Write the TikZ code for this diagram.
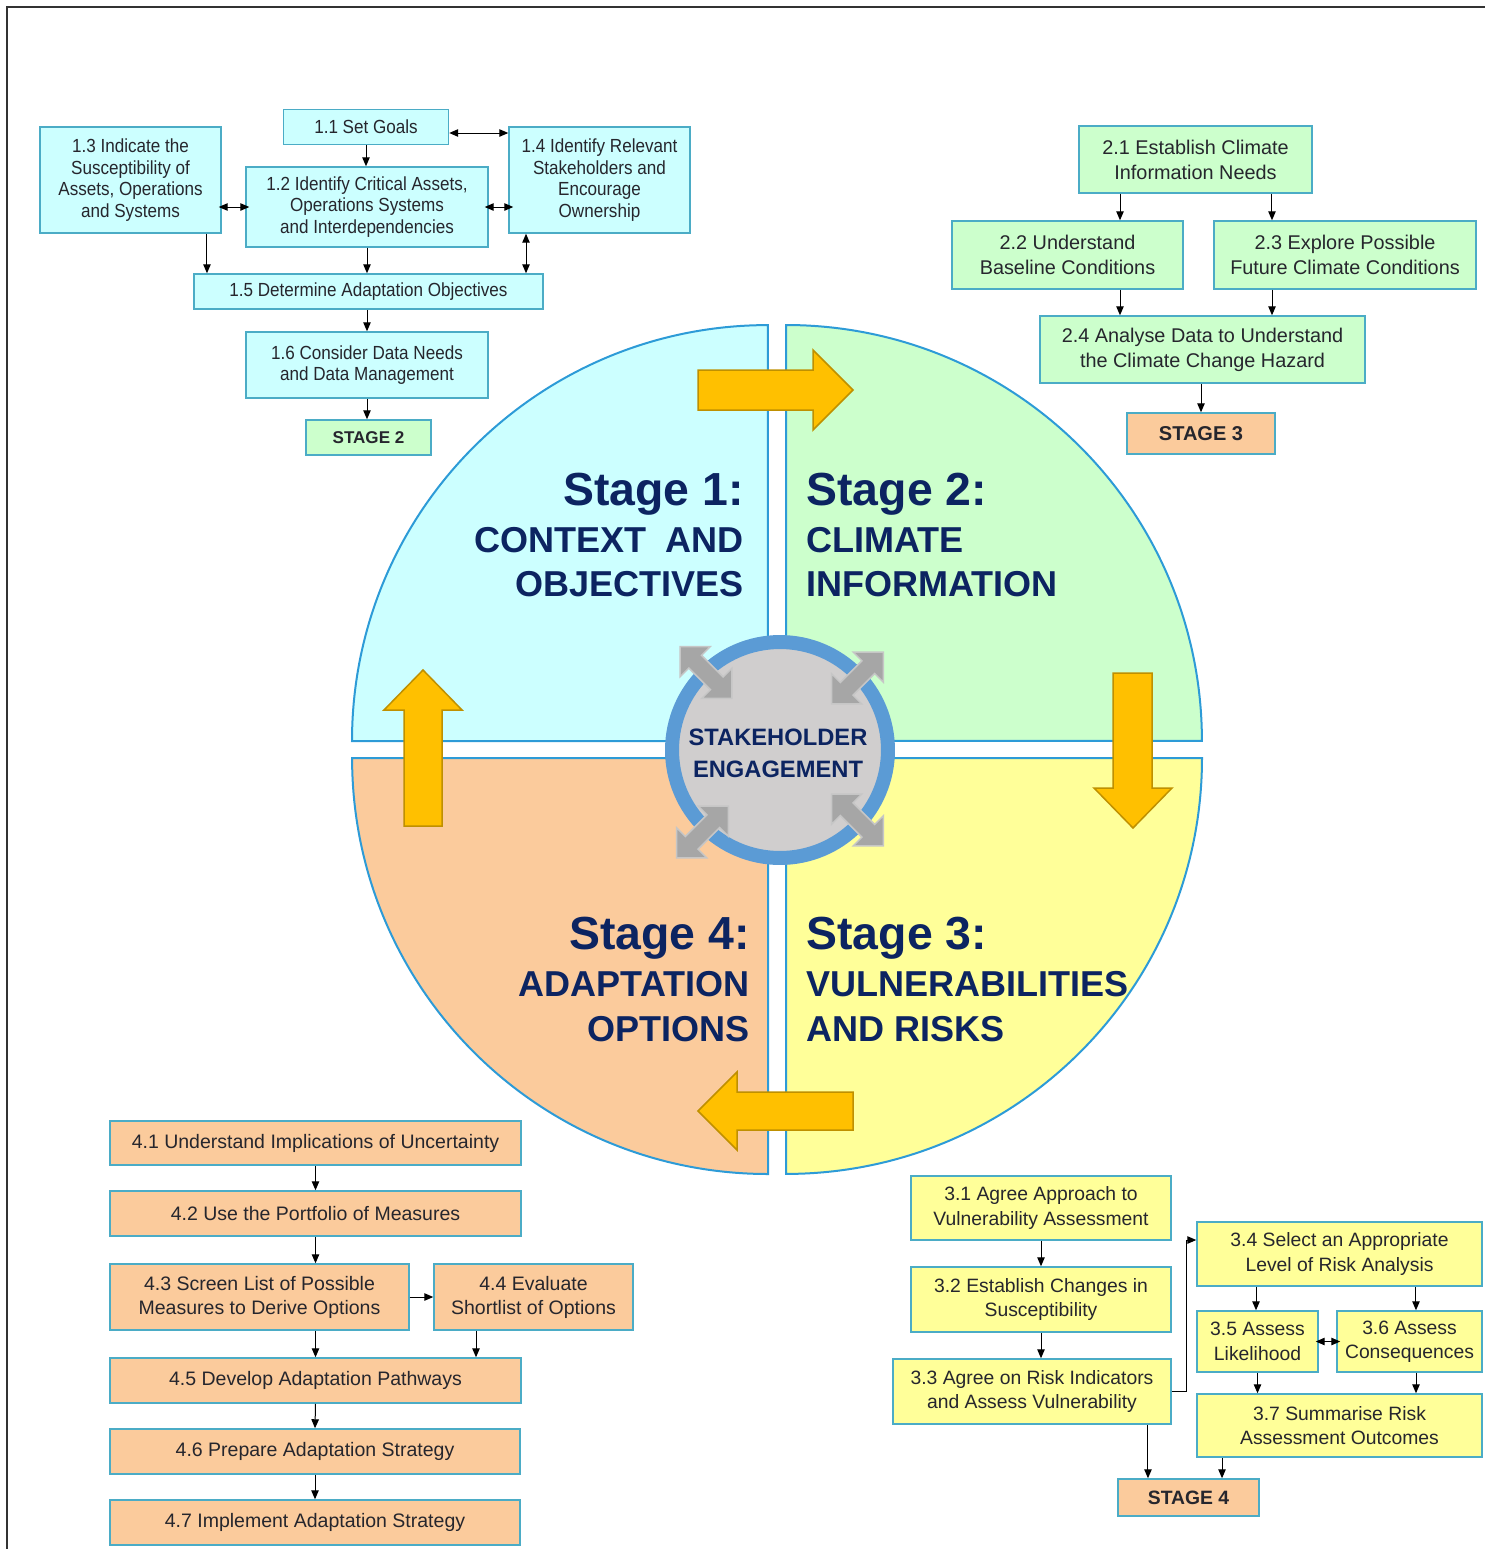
\documentclass[tikz,border=0pt]{standalone}
\usepackage{fontspec}
\setmainfont{Liberation Sans}
\newfontfamily\narrowfont[FakeStretch=0.9]{Liberation Sans}
\usetikzlibrary{arrows.meta}

\definecolor{cyanq}{RGB}{204,255,255}
\definecolor{greenq}{RGB}{204,255,204}
\definecolor{yellowq}{RGB}{255,255,153}
\definecolor{orangeq}{RGB}{251,203,156}
\definecolor{qline}{RGB}{45,155,215}
\definecolor{bline}{RGB}{75,172,198}
\definecolor{navy}{RGB}{12,36,97}
\definecolor{gold}{RGB}{255,192,0}
\definecolor{golddark}{RGB}{191,144,0}
\definecolor{ringblue}{RGB}{91,155,213}
\definecolor{hubgray}{RGB}{208,206,206}
\definecolor{arrgray}{RGB}{166,166,166}
\definecolor{txt}{RGB}{38,38,45}

\begin{document}
\begin{tikzpicture}[x=0.02cm, y=-0.02cm,
  >={Triangle[length=0.18cm,width=0.15cm]},
  every path/.style={line width=0.02cm},
  wh/.style 2 args={minimum width=#1cm, minimum height=#2cm},
  box/.style={draw=bline, line width=0.03cm, text=txt, align=center, inner sep=0pt},
  boxone/.style={box, fill=cyanq, font=\narrowfont\fontsize{10.8}{12.2}\selectfont},
  boxtwo/.style={box, fill=greenq, font=\fontsize{11.3}{14.2}\selectfont},
  boxthree/.style={box, fill=yellowq, font=\fontsize{11}{13.9}\selectfont},
  boxfour/.style={box, fill=orangeq, font=\fontsize{11.1}{13.6}\selectfont},
  gobox/.style={box, font=\bfseries\fontsize{#1}{#1}\selectfont},
  quad/.style={draw=qline, line width=0.04cm},
  bigarr/.style={fill=gold, draw=golddark, line width=0.03cm},
  hubarr/.style={fill=arrgray, draw=gray!45, line width=0.03cm},
  stitle/.style={text=navy, font=\bfseries\fontsize{26.4}{30}\selectfont, inner sep=0pt},
  scap/.style={text=navy, font=\bfseries\fontsize{20.5}{24}\selectfont, inner sep=0pt}]
\useasboundingbox (0,0) rectangle (1485,1549);
\draw[line width=0.04cm, black!80] (7,1549) -- (7,7) -- (1485,7);

% the four quadrants
\draw[quad, fill=cyanq] (768,741) -- (352,741) arc[start angle=180, end angle=90, radius=8.32cm] -- cycle;
\draw[quad, fill=greenq] (786,741) -- (786,325) arc[start angle=90, end angle=0, radius=8.32cm] -- cycle;
\draw[quad, fill=yellowq] (786,758) -- (1202,758) arc[start angle=0, end angle=-90, radius=8.32cm] -- cycle;
\draw[quad, fill=orangeq] (768,758) -- (768,1174) arc[start angle=-90, end angle=-180, radius=8.32cm] -- cycle;

% cycle arrows
\draw[bigarr] (698,370) -- (813,370) -- (813,350) -- (853,390) -- (813,430) -- (813,410) -- (698,410) -- cycle;
\draw[bigarr] (1113,673) -- (1152,673) -- (1152,788) -- (1172,788) -- (1133,828) -- (1094,788) -- (1113,788) -- cycle;
\draw[bigarr] (853,1092) -- (853,1130) -- (737,1130) -- (737,1150) -- (698,1111) -- (737,1072) -- (737,1092) -- cycle;
\draw[bigarr] (404,826) -- (404,710) -- (384,710) -- (423,670) -- (462,710) -- (442,710) -- (442,826) -- cycle;

% hub
\draw[draw=ringblue, line width=0.28cm, fill=hubgray] (780,750) circle[radius=2.16cm];
\foreach \cx/\cy/\ang in {706/672.5/-45, 857.5/678/45, 702.5/832/45, 857.5/820/-45}
  \draw[hubarr, shift={(\cx,\cy)}, rotate=\ang] (-36.5,0) -- (-15.3,-21.2) -- (-15.3,-9) -- (15.3,-9) -- (15.3,-21.2) -- (36.5,0) -- (15.3,21.2) -- (15.3,9) -- (-15.3,9) -- (-15.3,21.2) -- cycle;
\node[scap, font=\bfseries\fontsize{13.5}{16}\selectfont, anchor=base] (hub1) at (778,745) {STAKEHOLDER};
\node[scap, font=\bfseries\fontsize{13.5}{16}\selectfont, anchor=base] (hub2) at (778,777) {ENGAGEMENT};

% stage titles
\node[stitle, anchor=base east] (t1) at (744,505) {Stage 1:};
\node[scap, anchor=base east] (t1a) at (744,552) {CONTEXT\hspace{0.25em} AND};
\node[scap, anchor=base east] (t1b) at (744,596) {OBJECTIVES};
\node[stitle, anchor=base west] (t2) at (806,505) {Stage 2:};
\node[scap, anchor=base west] (t2a) at (806,552) {CLIMATE};
\node[scap, anchor=base west] (t2b) at (806,596) {INFORMATION};
\node[stitle, anchor=base west] (t3) at (806,949) {Stage 3:};
\node[scap, anchor=base west] (t3a) at (806,996) {VULNERABILITIES};
\node[scap, anchor=base west] (t3b) at (806,1041) {AND RISKS};
\node[stitle, anchor=base east] (t4) at (750,949) {Stage 4:};
\node[scap, anchor=base east] (t4a) at (750,996) {ADAPTATION};
\node[scap, anchor=base east] (t4b) at (750,1041) {OPTIONS};

% stage 1 steps
\node[boxone, wh={3.3}{0.7}] (s11) at (366,127) {1.1 Set Goals};
\node[boxone, wh={3.62}{2.12}] (s13) at (130.5,180) {1.3 Indicate the\\Susceptibility of\\Assets, Operations\\and Systems};
\node[boxone, wh={4.84}{1.6}] (s12) at (367,207) {1.2 Identify Critical Assets,\\Operations Systems\\and Interdependencies};
\node[boxone, wh={3.62}{2.12}] (s14) at (599.5,180) {1.4 Identify Relevant\\Stakeholders and\\Encourage\\Ownership};
\node[boxone, wh={6.98}{0.7}] (s15) at (368.5,291.5) {1.5 Determine Adaptation Objectives};
\node[boxone, wh={4.84}{1.32}] (s16) at (367,365) {1.6 Consider Data Needs\\and Data Management};
\node[gobox=9.7, fill=greenq, wh={2.5}{0.7}] (go2) at (368.5,437.5) {STAGE 2};
\draw[->] (s11.south) -- (s11.south |- s12.north);
\draw[<->] ([yshift=-0.12cm]s11.east) -- ([yshift=-0.12cm]s11.east -| s14.west);
\draw[<->] ([xshift=-0.06cm]s13.east |- s12) -- ([xshift=0.08cm]s12.west);
\draw[<->] ([xshift=-0.08cm]s12.east) -- ([xshift=0.1cm]s12.east -| s14.west);
\draw[->] ([xshift=1.53cm]s13.south) -- ([xshift=1.53cm]s13.south |- s15.north);
\draw[->] (s12.south) -- (s12.south |- s15.north);
\draw[<->] ([xshift=-1.47cm]s14.south) -- ([xshift=-1.47cm]s14.south |- s15.north);
\draw[->] (s16.north |- s15.south) -- (s16.north);
\draw[->] (s16.south) -- (s16.south |- go2.north);

% stage 2 steps
\node[boxtwo, wh={4.66}{1.34}] (s21) at (1195.5,159.5) {2.1 Establish Climate\\Information Needs};
\node[boxtwo, wh={4.62}{1.36}] (s22) at (1067.5,255) {2.2 Understand\\Baseline Conditions};
\node[boxtwo, wh={5.24}{1.36}] (s23) at (1345,255) {2.3 Explore Possible\\Future Climate Conditions};
\node[boxtwo, wh={6.5}{1.34}] (s24) at (1202.5,349.5) {2.4 Analyse Data to Understand\\the Climate Change Hazard};
\node[gobox=11.4, fill=orangeq, wh={2.96}{0.82}] (go3) at (1201,433.5) {STAGE 3};
\draw[->] ([xshift=-1.51cm]s21.south) -- ([xshift=-1.51cm]s21.south |- s22.north);
\draw[->] ([xshift=1.53cm]s21.south) -- ([xshift=1.53cm]s21.south |- s23.north);
\draw[->] ([xshift=1.05cm]s22.south) -- ([xshift=1.05cm]s22.south |- s24.north);
\draw[->] ([xshift=-1.46cm]s23.south) -- ([xshift=-1.46cm]s23.south |- s24.north);
\draw[->] (go3.north |- s24.south) -- (go3.north);

% stage 3 steps
\node[boxthree, wh={5.2}{1.28}] (s31) at (1041,1208) {3.1 Agree Approach to\\Vulnerability Assessment};
\node[boxthree, wh={5.2}{1.3}] (s32) at (1041,1299.5) {3.2 Establish Changes in\\Susceptibility};
\node[boxthree, wh={5.56}{1.3}] (s33) at (1032,1391.5) {3.3 Agree on Risk Indicators\\and Assess Vulnerability};
\node[boxthree, wh={5.7}{1.28}] (s34) at (1339.5,1254) {3.4 Select an Appropriate\\Level of Risk Analysis};
\node[boxthree, wh={2.42}{1.22}] (s35) at (1257.5,1341.5) {3.5 Assess\\Likelihood};
\node[boxthree, wh={2.9}{1.22}] (s36) at (1409.5,1341.5) {3.6 Assess\\Consequences};
\node[boxthree, wh={5.7}{1.26}] (s37) at (1339.5,1425.5) {3.7 Summarise Risk\\Assessment Outcomes};
\node[gobox=11, fill=orangeq, wh={2.82}{0.74}] (go4) at (1188.5,1497.5) {STAGE 4};
\draw[->] (s31.south) -- (s32.north);
\draw[->] (s32.south) -- (s32.south |- s33.north);
\draw[->] (s33.east) -- ++(0.3cm,0) |- ([yshift=0.28cm]s34.west);
\draw[->] ([xshift=-1.67cm]s34.south) -- ([xshift=-1.67cm]s34.south |- s35.north);
\draw[->] ([xshift=1.53cm]s34.south) -- ([xshift=1.53cm]s34.south |- s36.north);
\draw[<->] ([xshift=-0.06cm]s35.east) -- ([xshift=0.08cm]s36.west);
\draw[->] (s35.south) -- (s35.south |- s37.north);
\draw[->] ([xshift=0.13cm]s36.south) -- ([xshift=0.13cm]s36.south |- s37.north);
\draw[->] ([xshift=2.32cm]s33.south) -- ([xshift=2.32cm]s33.south |- go4.north);
\draw[->] ([xshift=-2.35cm]s37.south) -- ([xshift=-2.35cm]s37.south |- go4.north);

% stage 4 steps
\node[boxfour, wh={8.22}{0.88}] (s41) at (315.5,1143) {4.1 Understand Implications of Uncertainty};
\node[boxfour, wh={8.22}{0.9}] (s42) at (315.5,1213.5) {4.2 Use the Portfolio of Measures};
\node[boxfour, wh={5.98}{1.32}] (s43) at (259.5,1297) {4.3 Screen List of Possible\\Measures to Derive Options};
\node[boxfour, wh={3.98}{1.32}] (s44) at (533.5,1297) {4.4 Evaluate\\Shortlist of Options};
\node[boxfour, wh={8.22}{0.9}] (s45) at (315.5,1380.5) {4.5 Develop Adaptation Pathways};
\node[boxfour, wh={8.2}{0.9}] (s46) at (315,1451.5) {4.6 Prepare Adaptation Strategy};
\node[boxfour, wh={8.2}{0.9}] (s47) at (315,1522.5) {4.7 Implement Adaptation Strategy};
\draw[->] (s41.south) -- (s42.north);
\draw[->] (s42.south) -- (s42.south |- s43.north);
\draw[->] (s43.east) -- (s43.east -| s44.west);
\draw[->] (s45.north |- s43.south) -- (s45.north);
\draw[->] ([xshift=-1.15cm]s44.south) -- ([xshift=-1.15cm]s44.south |- s45.north);
\draw[->] (s45.south) -- (s46.north);
\draw[->] (s46.south) -- (s47.north);
\end{tikzpicture}
\end{document}
